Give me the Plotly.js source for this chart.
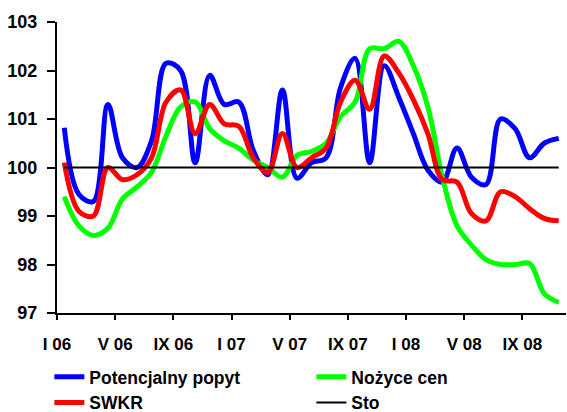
<!DOCTYPE html>
<html>
<head>
<meta charset="utf-8">
<script src="https://cdn.plot.ly/plotly-3.0.1.min.js"></script>
<style>html,body{margin:0;padding:0;background:#fff;}#chart{width:567px;height:412px;}</style>
</head>
<body>
<div id="chart"></div>
<script>
// Months Jan 2006 .. Nov 2008 (35 monthly observations)
const months = ["I 06","II 06","III 06","IV 06","V 06","VI 06","VII 06","VIII 06","IX 06","X 06","XI 06","XII 06",
                "I 07","II 07","III 07","IV 07","V 07","VI 07","VII 07","VIII 07","IX 07","X 07","XI 07","XII 07",
                "I 08","II 08","III 08","IV 08","V 08","VI 08","VII 08","VIII 08","IX 08","X 08","XI 08"];
const potencjalnyPopyt = [100.82,99.45,99.3,101.3,100.2,100.0,100.55,102.15,102.0,100.1,101.9,101.3,
                          101.35,100.35,99.85,101.6,99.78,100.1,100.2,101.65,102.25,100.1,102.1,101.45,
                          100.7,99.95,99.7,100.4,99.8,99.65,101.0,100.8,100.2,100.5,100.6];
const swkr = [100.1,99.1,99.0,100.0,99.75,99.85,100.2,101.35,101.6,100.7,101.3,100.9,
              100.85,100.2,99.9,100.7,100.0,100.2,100.4,101.35,101.8,101.2,102.3,101.95,
              101.4,100.7,99.75,99.7,99.05,98.9,99.5,99.4,99.15,98.95,98.9];
const nozyceCen = [99.4,98.8,98.6,98.75,99.35,99.6,99.9,100.65,101.25,101.35,100.8,100.55,
                   100.4,100.15,100.0,99.8,100.25,100.33,100.5,101.05,101.35,102.45,102.45,102.6,
                   102.1,101.25,99.8,98.8,98.4,98.1,98.0,98.0,98.02,97.4,97.22];
const sto = months.map(() => 100);
const tickLabels = ["I 06","V 06","IX 06","I 07","V 07","IX 07","I 08","V 08","IX 08"];
const tickStep = 4;

const idx = months.map((m, i) => i);
const tickPos = tickLabels.map((t, i) => i * tickStep - 0.5);

const font = {family: "'Liberation Sans', Arial, sans-serif", color: "#000"};

const traces = [
  {x: idx, y: potencjalnyPopyt, name: "Potencjalny popyt", mode: "lines", legendrank: 1,
   line: {color: "#0000FF", width: 5, shape: "spline", smoothing: 1}},
  {x: idx, y: nozyceCen, name: "Nożyce cen", mode: "lines", legendrank: 2,
   line: {color: "#00FF00", width: 5, shape: "spline", smoothing: 1}},
  {x: idx, y: swkr, name: "SWKR", mode: "lines", legendrank: 3,
   line: {color: "#FF0000", width: 5, shape: "spline", smoothing: 1}},
  {x: idx, y: sto, name: "Sto", mode: "lines", legendrank: 4,
   line: {color: "#000000", width: 2}}
];

const layout = {
  width: 567, height: 412,
  margin: {l: 57, r: 1, t: 22, b: 99, autoexpand: false},
  paper_bgcolor: "#fff", plot_bgcolor: "#fff",
  showlegend: true,
  font: Object.assign({size: 17}, font),
  xaxis: {
    range: [-0.5, months.length - 0.5],
    tickmode: "array", tickvals: tickPos, ticktext: tickLabels,
    ticks: "outside", ticklen: 5, tickwidth: 2, tickcolor: "#000",
    showline: true, linecolor: "#000", linewidth: 2,
    showgrid: false, zeroline: false, fixedrange: true,
    tickfont: Object.assign({size: 17, weight: "bold"}, font),
    ticklabelstandoff: 10
  },
  yaxis: {
    range: [97, 103], dtick: 1, tick0: 97,
    ticks: "outside", ticklen: 8, tickwidth: 2, tickcolor: "#000",
    showline: true, linecolor: "#000", linewidth: 2,
    showgrid: false, zeroline: false, fixedrange: true,
    tickfont: Object.assign({size: 18, weight: "bold"}, font),
    ticklabelstandoff: 6
  },
  legend: {
    orientation: "h", x: -0.015, xanchor: "left", y: -0.158, yanchor: "top",
    entrywidth: 217, entrywidthmode: "pixels",
    font: Object.assign({size: 17.5, weight: "bold"}, font),
    bgcolor: "rgba(0,0,0,0)", tracegroupgap: 0, itemwidth: 30
  }
};

Plotly.newPlot("chart", traces, layout, {displayModeBar: false, staticPlot: true});
</script>
</body>
</html>
